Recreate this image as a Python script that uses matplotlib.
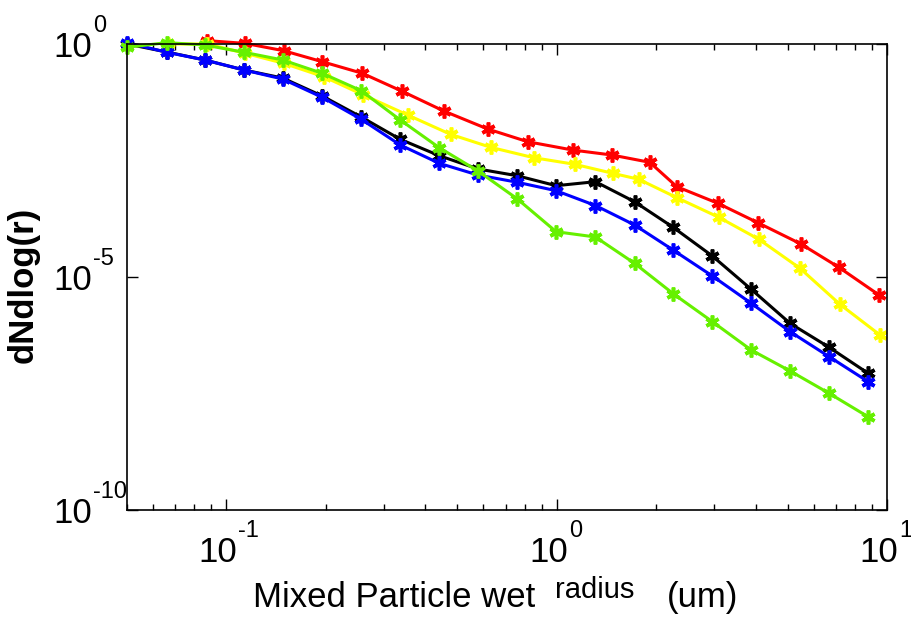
import matplotlib
matplotlib.use('Agg')
import matplotlib.pyplot as plt
from matplotlib.ticker import LogLocator, FixedLocator, NullLocator, NullFormatter
from matplotlib.transforms import offset_copy

# x grids (um)
r_main = [0.05, 0.066, 0.086, 0.113, 0.148, 0.195, 0.256, 0.336, 0.441, 0.578,
          0.759, 0.996, 1.31, 1.72, 2.25, 2.96, 3.88, 5.09, 6.68, 8.77]
r_red = [0.0876, 0.114, 0.149, 0.195, 0.258, 0.339, 0.455, 0.618, 0.817, 1.118,
         1.468, 1.913, 2.31, 3.075, 4.066, 5.488, 7.153, 9.458]
r_yellow = [0.0667, 0.0876, 0.114, 0.149, 0.197, 0.260, 0.354, 0.477, 0.631, 0.852,
            1.134, 1.478, 1.772, 2.31, 3.097, 4.094, 5.45, 7.204, 9.524]

# dNdlog(r) values
y_red = [1.18, 1.03, 0.718, 0.417, 0.235, 0.098, 0.0365, 0.0150, 0.0080, 0.0053,
         0.00415, 0.00289, 8.67e-4, 3.82e-4, 1.46e-4, 5.11e-5, 1.61e-5, 4.11e-6]
y_yellow = [1.0, 1.0, 0.631, 0.385, 0.199, 0.0805, 0.0299, 0.01153, 0.00607, 0.00363,
            0.00262, 0.00168, 0.00125, 5.04e-4, 1.91e-4, 6.44e-5, 1.54e-5, 2.59e-6, 5.69e-7]
y_black = [1.0, 0.673, 0.454, 0.277, 0.186, 0.0766, 0.0271, 0.00901, 0.00401, 0.00208,
           0.00149, 9.11e-4, 1.11e-3, 4.13e-4, 1.17e-4, 2.82e-5, 5.45e-6, 1.01e-6, 3.10e-7, 8.57e-8]
y_blue = [1.07, 0.664, 0.454, 0.277, 0.177, 0.0718, 0.0242, 0.00680, 0.00275, 0.00154,
          0.00108, 7.11e-4, 3.42e-4, 1.31e-4, 3.80e-5, 1.05e-5, 2.73e-6, 6.70e-7, 1.95e-7, 5.67e-8]
y_green = [0.849, 1.07, 0.952, 0.664, 0.454, 0.235, 0.0995, 0.0234, 0.00595, 0.00188,
           4.77e-4, 9.37e-5, 7.22e-5, 1.97e-5, 4.41e-6, 1.10e-6, 2.71e-7, 9.61e-8, 3.19e-8, 1.00e-8]

# tick positions and the exponents printed on them
x_ticks = [0.1, 1, 10]
x_exps = ['-1', '0', '1']
y_ticks = [1e-10, 1e-5, 1]
y_exps = ['-10', '-5', '0']

plt.rcParams['font.family'] = ['Liberation Sans', 'DejaVu Sans']

W, H = 912, 619
fig = plt.figure(figsize=(W / 100, H / 100), dpi=100)
ax = fig.add_axes([127 / W, 1 - 510 / H, 760 / W, 466 / H])

style = dict(lw=2.2, marker=(6, 2, 0), ms=10, mew=2.6, clip_on=False)
ax.plot(r_red, y_red, color='#ff0000', **style)
ax.plot(r_yellow, y_yellow, color='#ffff00', **style)
ax.plot(r_main, y_black, color='black', **style)
ax.plot(r_main, y_blue, color='#0000ff', **style)
ax.plot(r_main, y_green, color='#66f000', **style)

ax.set_xscale('log')
ax.set_yscale('log')
ax.set_xlim(0.05, 10)
ax.set_ylim(1e-10, 1)

ax.xaxis.set_major_locator(FixedLocator(x_ticks))
ax.xaxis.set_minor_locator(LogLocator(base=10, subs=range(2, 10)))
ax.xaxis.set_major_formatter(NullFormatter())
ax.xaxis.set_minor_formatter(NullFormatter())
ax.yaxis.set_major_locator(FixedLocator(y_ticks))
ax.yaxis.set_minor_locator(NullLocator())
ax.yaxis.set_major_formatter(NullFormatter())

ax.tick_params(which='both', direction='in', top=True, right=True, width=1)
ax.tick_params(which='major', length=8)
ax.tick_params(which='minor', length=4)
for s in ax.spines.values():
    s.set_linewidth(1.2)

# tick labels drawn MATLAB style: big "10" with a raised exponent
for xt, e in zip(x_ticks, x_exps):
    base = offset_copy(ax.get_xaxis_transform(), fig=fig, x=11, y=-52, units='dots')
    sup = offset_copy(ax.get_xaxis_transform(), fig=fig, x=12, y=-27, units='dots')
    ax.text(xt, 0, '10', transform=base, ha='right', va='baseline', fontsize=25, clip_on=False)
    ax.text(xt, 0, e, transform=sup, ha='left', va='baseline', fontsize=17, clip_on=False)

for yt, e in zip(y_ticks, y_exps):
    base = offset_copy(ax.get_yaxis_transform(), fig=fig, x=-35, y=-13, units='dots')
    sup = offset_copy(ax.get_yaxis_transform(), fig=fig, x=-34, y=12, units='dots')
    ax.text(0, yt, '10', transform=base, ha='right', va='baseline', fontsize=25, clip_on=False)
    ax.text(0, yt, e, transform=sup, ha='left', va='baseline', fontsize=17, clip_on=False)

ax.set_ylabel('dNdlog(r)', fontsize=25, fontweight='bold')
ax.yaxis.set_label_coords(-0.115, 0.483)

# x label with "radius" raised as in the original
fig.text(253 / W, 1 - 607 / H, 'Mixed Particle wet', fontsize=25, va='baseline')
fig.text(555 / W, 1 - 598 / H, 'radius', fontsize=21, va='baseline')
fig.text(667 / W, 1 - 607 / H, '(um)', fontsize=25, va='baseline')

fig.savefig('out.png', dpi=100)
